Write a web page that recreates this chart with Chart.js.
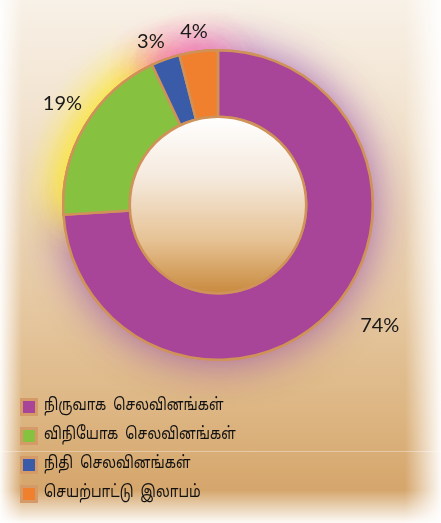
<!DOCTYPE html>
<html>
<head>
<style>
  html, body { margin: 0; padding: 0; }
  body {
    width: 441px; height: 523px; overflow: hidden;
    background:
      linear-gradient(to right, rgba(255,255,255,0.95) 0px, rgba(255,255,255,0) 22px, rgba(255,255,255,0) 405px, rgba(255,255,255,0.95) 441px),
      linear-gradient(to bottom, rgba(255,255,255,0) 490px, rgba(255,255,255,0.95) 523px),
      linear-gradient(to bottom, rgba(255,255,255,0) 451px, rgba(255,255,255,0.35) 451px, rgba(255,255,255,0.35) 452px, rgba(255,255,255,0) 452px),
      linear-gradient(to bottom, #f8f1e7 0px, #f1e1cc 130px, #e6c9a3 300px, #dcb480 420px, #d5a66c 490px);
  }
  #wrap { position: absolute; left: 0; top: 0; width: 441px; height: 523px; }
</style>
</head>
<body>
<div id="wrap"><canvas id="myChart"></canvas></div>

<script src="https://cdn.jsdelivr.net/npm/chart.js"></script>
<script>
let labels = ['நிருவாக  செலவினங்கள்', 'விநியோக  செலவினங்கள்', 'நிதி  செலவினங்கள்', 'செயற்பாட்டு  இலாபம்'];
let values = [74, 19, 3, 4];
let colors = ['#a84598', '#86c240', '#3a5ba8', '#f0802e'];
let glows = ['rgba(140,60,170,0.75)', 'rgba(250,230,50,1)', 'rgba(240,80,160,0.9)', 'rgba(240,90,170,0.9)'];
let glowPasses = [1, 2, 2, 2];
let borderCol = '#cf9258';
// label placement tweaks: distance past the rim, angle shift in degrees
let labelGap = [47, 31, 22, 20];
let labelTurn = [-6.5, 2.5, -2.5, -0.7];

// soft coloured glow behind each slice
let glowPlugin = {
  id: 'glow',
  beforeDatasetsDraw(chart) {
    let ctx = chart.ctx;
    chart.getDatasetMeta(0).data.forEach((arc, i) => {
      for (let k = 0; k < glowPasses[i]; k++) {
        ctx.save();
        ctx.shadowColor = glows[i];
        ctx.shadowBlur = 42;
        arc.draw(ctx);
        ctx.restore();
      }
    });
  }
};

// gradient disc in the hole + percent labels + legend list
let extrasPlugin = {
  id: 'extras',
  afterDatasetsDraw(chart) {
    let ctx = chart.ctx;
    let arcs = chart.getDatasetMeta(0).data;
    let a0 = arcs[0];
    let cx = a0.x, cy = a0.y, rIn = a0.innerRadius, rOut = a0.outerRadius;

    ctx.save();
    let g = ctx.createLinearGradient(0, cy - rIn, 0, cy + rIn);
    g.addColorStop(0, '#ffffff');
    g.addColorStop(0.35, '#f5e9dc');
    g.addColorStop(0.7, '#e6c294');
    g.addColorStop(1, '#c98a3e');
    ctx.beginPath();
    ctx.arc(cx, cy, rIn, 0, Math.PI * 2);
    ctx.fillStyle = g;
    ctx.fill();
    ctx.lineWidth = 2.5;
    ctx.strokeStyle = borderCol;
    ctx.stroke();
    ctx.restore();

    ctx.save();
    ctx.font = '20px Lato, "DejaVu Sans", sans-serif';
    ctx.fillStyle = '#1a1a1a';
    ctx.textBaseline = 'middle';
    ctx.textAlign = 'center';
    arcs.forEach((arc, i) => {
      let mid = (arc.startAngle + arc.endAngle) / 2 + labelTurn[i] * Math.PI / 180;
      let r = rOut + labelGap[i];
      ctx.fillText(values[i] + '%', cx + Math.cos(mid) * r, cy + Math.sin(mid) * r);
    });
    ctx.restore();

    ctx.save();
    ctx.textBaseline = 'middle';
    labels.forEach((lab, i) => {
      let y = 407 + i * 29;
      ctx.fillStyle = '#d49a68';
      ctx.fillRect(20, y - 9, 18, 18);
      ctx.fillStyle = colors[i];
      ctx.fillRect(23, y - 6, 12, 12);
      ctx.save();
      ctx.translate(44, y);
      ctx.scale(0.8, 1);
      ctx.font = '17px "Noto Sans Tamil", "Latha", "Lohit Tamil", sans-serif';
      ctx.fillStyle = '#111';
      ctx.fillText(lab, 0, 0);
      ctx.restore();
    });
    ctx.restore();
  }
};

let ctx = document.getElementById('myChart').getContext('2d');
let chart = new Chart(ctx, {
  type: 'doughnut',
  data: {
    labels: labels,
    datasets: [{
      data: values,
      backgroundColor: colors,
      borderColor: borderCol,
      borderWidth: 2.5,
      borderJoinStyle: 'miter'
    }]
  },
  options: {
    responsive: true,
    maintainAspectRatio: false,
    animation: false,
    cutout: '57%',
    layout: { padding: { left: 62, right: 67, top: 49, bottom: 162 } },
    plugins: {
      legend: { display: false },
      tooltip: { enabled: false }
    }
  },
  plugins: [glowPlugin, extrasPlugin]
});
</script>
</body>
</html>
